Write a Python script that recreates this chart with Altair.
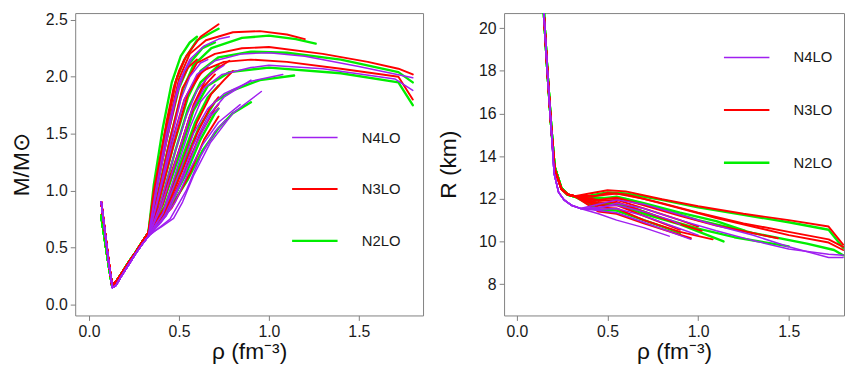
import altair as alt
import pandas as pd

FAMILIES = ["N4LO", "N3LO", "N2LO"]
COLORS = ["#A020F0", "#FF0000", "#00EE00"]
WIDTHS = [1.5, 2.4, 3.3]
DRAW_ORDER = ["N2LO", "N3LO", "N4LO"]

# ---------------- left panel: M/Msun vs rho ----------------
M_BASE = {
    "N2LO": [[0.068, 0.78], [0.09, 0.55], [0.11, 0.34], [0.128, 0.17], [0.15, 0.2], [0.18, 0.27], [0.22, 0.37], [0.26, 0.46], [0.30, 0.56], [0.33, 0.63]],
    "N3LO": [[0.068, 0.90], [0.09, 0.62], [0.11, 0.37], [0.128, 0.17], [0.15, 0.2], [0.18, 0.27], [0.22, 0.37], [0.26, 0.46], [0.30, 0.56], [0.33, 0.63]],
    "N4LO": [[0.068, 0.90], [0.09, 0.62], [0.11, 0.36], [0.13, 0.15], [0.15, 0.17], [0.18, 0.25], [0.22, 0.35], [0.26, 0.45], [0.30, 0.54], [0.33, 0.60]],
}

M_N3LO = [
    [[0.36, 1.0], [0.42, 1.5], [0.49, 2.0], [0.54, 2.18], [0.62, 2.35], [0.72, 2.46]],
    [[0.37, 1.0], [0.43, 1.5], [0.50, 1.98], [0.56, 2.2], [0.65, 2.32], [0.8, 2.39], [0.95, 2.40], [1.1, 2.37], [1.2, 2.33]],
    [[0.38, 0.95], [0.45, 1.45], [0.52, 1.9], [0.6, 2.12], [0.7, 2.2], [0.85, 2.25], [1.0, 2.26], [1.3, 2.2], [1.55, 2.13], [1.72, 2.07], [1.8, 2.02]],
    [[0.39, 0.92], [0.47, 1.4], [0.55, 1.85], [0.63, 2.05], [0.75, 2.13], [0.9, 2.15], [1.1, 2.13], [1.4, 2.07], [1.72, 2.0], [1.8, 1.8]],
    [[0.4, 0.9], [0.5, 1.35], [0.58, 1.75], [0.65, 1.98], [0.72, 2.08], [0.78, 2.14]],
    [[0.42, 0.85], [0.52, 1.25], [0.6, 1.6], [0.68, 1.85], [0.75, 1.97], [0.8, 2.05]],
    [[0.44, 0.85], [0.54, 1.2], [0.62, 1.5], [0.7, 1.72], [0.72, 1.76]],
    [[0.38, 1.1], [0.43, 1.6], [0.47, 1.9], [0.5, 2.05], [0.53, 2.15]],
    [[0.37, 0.98], [0.44, 1.5], [0.5, 1.92], [0.55, 2.08], [0.6, 2.15]],
    [[0.39, 0.95], [0.46, 1.42], [0.53, 1.8], [0.6, 2.0], [0.66, 2.08]],
    [[0.41, 0.88], [0.49, 1.3], [0.56, 1.65], [0.63, 1.9], [0.7, 2.02]],
    [[0.43, 0.84], [0.52, 1.18], [0.6, 1.5], [0.67, 1.72], [0.72, 1.82]],
    [[0.46, 0.85], [0.56, 1.15], [0.64, 1.45], [0.72, 1.65]],
]

M_N2LO = [
    [[0.36, 0.98], [0.42, 1.48], [0.48, 1.95], [0.53, 2.15], [0.6, 2.32], [0.72, 2.42]],
    [[0.36, 1.05], [0.41, 1.55], [0.46, 1.95], [0.51, 2.18], [0.56, 2.3], [0.6, 2.35]],
    [[0.38, 0.95], [0.45, 1.45], [0.52, 1.88], [0.58, 2.1], [0.68, 2.25], [0.85, 2.34], [1.0, 2.36], [1.15, 2.33], [1.26, 2.29]],
    [[0.39, 0.92], [0.47, 1.4], [0.55, 1.82], [0.62, 2.05], [0.72, 2.17], [0.9, 2.22], [1.1, 2.21], [1.4, 2.15], [1.72, 2.04], [1.8, 1.95]],
    [[0.41, 0.88], [0.5, 1.3], [0.58, 1.7], [0.66, 1.92], [0.78, 2.04], [1.0, 2.08], [1.4, 2.03], [1.72, 1.95], [1.8, 1.75]],
    [[0.43, 0.86], [0.53, 1.25], [0.61, 1.55], [0.7, 1.78], [0.8, 1.88], [0.95, 1.97], [1.14, 2.01]],
    [[0.45, 0.85], [0.55, 1.1], [0.63, 1.35], [0.72, 1.55], [0.8, 1.68], [0.9, 1.775]],
    [[0.37, 0.97], [0.43, 1.45], [0.5, 1.9], [0.56, 2.12], [0.63, 2.25], [0.7, 2.3]],
    [[0.4, 0.9], [0.48, 1.35], [0.55, 1.72], [0.62, 1.95], [0.72, 2.1]],
    [[0.42, 0.86], [0.51, 1.25], [0.59, 1.6], [0.66, 1.82], [0.72, 1.92]],
    [[0.44, 0.84], [0.54, 1.15], [0.62, 1.45], [0.7, 1.68], [0.72, 1.72]],
]

M_N4LO = [
    [[0.37, 1.0], [0.43, 1.5], [0.5, 1.95], [0.56, 2.15], [0.64, 2.27], [0.72, 2.33], [0.78, 2.35]],
    [[0.38, 0.9], [0.46, 1.4], [0.53, 1.8], [0.6, 2.02], [0.7, 2.14], [0.85, 2.2], [1.0, 2.21], [1.2, 2.18], [1.5, 2.09], [1.8, 1.99]],
    [[0.4, 0.85], [0.49, 1.3], [0.57, 1.7], [0.64, 1.9], [0.74, 2.02], [0.9, 2.08], [1.0, 2.1], [1.3, 2.07], [1.7, 1.98], [1.8, 1.88]],
    [[0.41, 0.8], [0.5, 1.15], [0.58, 1.5], [0.66, 1.72], [0.75, 1.85], [0.9, 1.96], [1.077, 2.02]],
    [[0.36, 0.64], [0.4, 0.68], [0.47, 0.757], [0.52, 0.9], [0.58, 1.13], [0.674, 1.42], [0.8, 1.68], [0.958, 1.87]],
    [[0.4, 0.72], [0.48, 0.9], [0.55, 1.15], [0.63, 1.4], [0.72, 1.6], [0.84, 1.755]],
    [[0.42, 0.78], [0.5, 1.05], [0.58, 1.4], [0.66, 1.65], [0.75, 1.82], [0.9, 1.97]],
    [[0.37, 0.95], [0.42, 1.35], [0.48, 1.8], [0.53, 2.05], [0.57, 2.15]],
    [[0.38, 0.92], [0.45, 1.4], [0.51, 1.8], [0.56, 2.0], [0.62, 2.12], [0.66, 2.15]],
    [[0.39, 0.85], [0.47, 1.3], [0.54, 1.65], [0.6, 1.88], [0.68, 2.03], [0.75, 2.1]],
    [[0.41, 0.8], [0.49, 1.2], [0.56, 1.55], [0.62, 1.78], [0.7, 1.93]],
    [[0.43, 0.78], [0.52, 1.1], [0.6, 1.42], [0.67, 1.65], [0.72, 1.72]],
    [[0.45, 0.75], [0.54, 1.0], [0.62, 1.3], [0.7, 1.52], [0.76, 1.62]],
]

# ---------------- right panel: R (km) vs rho ----------------
R_BASE = {
    "N2LO": [[0.145, 21.5], [0.15, 20.5], [0.168, 18.0], [0.19, 15.3], [0.208, 13.5], [0.245, 12.5], [0.28, 12.2], [0.32, 12.1]],
    "N3LO": [[0.145, 21.5], [0.15, 20.5], [0.168, 18.0], [0.19, 15.25], [0.208, 13.4], [0.245, 12.47], [0.28, 12.2], [0.32, 12.12]],
    "N4LO": [[0.145, 21.5], [0.15, 20.5], [0.168, 18.0], [0.19, 15.2], [0.205, 13.2], [0.23, 12.3], [0.26, 11.95], [0.3, 11.7], [0.35, 11.55]],
}

R_N3LO = [
    [[0.4, 12.25], [0.5, 12.4], [0.6, 12.35], [0.8, 11.98], [1.0, 11.65], [1.25, 11.3], [1.5, 11.0], [1.72, 10.7], [1.8, 9.85]],
    [[0.42, 12.1], [0.5, 12.28], [0.6, 12.2], [0.8, 11.8], [1.0, 11.35], [1.25, 10.85], [1.5, 10.45], [1.72, 10.1], [1.8, 9.75]],
    [[0.45, 11.95], [0.55, 12.05], [0.7, 11.7], [0.9, 11.2], [1.1, 10.75], [1.3, 10.4], [1.44, 10.15]],
    [[0.45, 11.8], [0.55, 11.85], [0.7, 11.4], [0.85, 10.95], [1.02, 10.5]],
    [[0.45, 11.6], [0.55, 11.55], [0.7, 11.0], [0.9, 10.45], [1.08, 10.1]],
    [[0.45, 11.4], [0.55, 11.3], [0.7, 10.85], [0.96, 10.15]],
    [[0.45, 12.15], [0.55, 12.25], [0.7, 12.0], [0.9, 11.55], [1.1, 11.1], [1.3, 10.7], [1.5, 10.3], [1.72, 9.95], [1.8, 9.6]],
    [[0.45, 11.9], [0.55, 11.95], [0.7, 11.55], [0.9, 11.0], [1.0, 10.7]],
    [[0.45, 11.7], [0.55, 11.7], [0.7, 11.2], [0.9, 10.55]],
]

R_N2LO = [
    [[0.4, 12.15], [0.5, 12.3], [0.6, 12.25], [0.8, 11.95], [1.0, 11.6], [1.25, 11.25], [1.5, 10.9], [1.72, 10.55], [1.8, 9.7]],
    [[0.45, 12.0], [0.55, 12.1], [0.7, 11.8], [0.9, 11.35], [1.1, 10.95], [1.26, 10.5]],
    [[0.45, 11.7], [0.55, 11.75], [0.7, 11.3], [0.9, 10.8], [1.14, 10.0]],
    [[0.45, 11.8], [0.6, 11.7], [0.8, 11.1], [1.0, 10.6], [1.2, 10.2], [1.5, 9.77]],
    [[0.45, 12.05], [0.6, 12.0], [0.8, 11.5], [1.0, 11.0], [1.3, 10.4], [1.6, 9.9], [1.75, 9.6], [1.8, 9.35]],
    [[0.45, 11.5], [0.55, 11.45], [0.7, 11.0], [0.9, 10.4]],
]

R_N4LO = [
    [[0.45, 11.75], [0.55, 11.95], [0.7, 11.75], [0.9, 11.25], [1.1, 10.75], [1.3, 10.3], [1.5, 9.75], [1.72, 9.25], [1.8, 9.25]],
    [[0.45, 11.6], [0.55, 11.7], [0.7, 11.4], [0.85, 11.0], [0.9, 10.8]],
    [[0.45, 11.45], [0.55, 11.35], [0.7, 10.9], [0.96, 10.1]],
    [[0.45, 11.3], [0.55, 11.0], [0.7, 10.65], [0.84, 10.25]],
    [[0.45, 11.5], [0.55, 11.55], [0.7, 11.2], [0.9, 10.6], [1.0, 10.3]],
    [[0.45, 11.55], [0.55, 11.8], [0.7, 11.55], [0.9, 11.0], [1.1, 10.5], [1.3, 10.05], [1.5, 9.65], [1.72, 9.4], [1.8, 9.35]],
]


def build(base, branches):
    rows = []
    for fam in DRAW_ORDER:
        for k, br in enumerate(branches[fam]):
            for i, (x, y) in enumerate(base[fam] + br):
                rows.append({"family": fam, "curve": f"{fam}-{k}", "idx": i, "rho": x, "val": y})
    return pd.DataFrame(rows)


df_m = build(M_BASE, {"N2LO": M_N2LO, "N3LO": M_N3LO, "N4LO": M_N4LO})
df_r = build(R_BASE, {"N2LO": R_N2LO, "N3LO": R_N3LO, "N4LO": R_N4LO})

FONT = "Liberation Sans"


def panel(df, xdom, ydom, yvals, yfmt, ytitle, ytpad, lx, ly, rowpad, w, h):
    leg = alt.Legend(orient="none", legendX=lx, legendY=ly, title=None,
                     symbolType="stroke", symbolSize=2116, labelFontSize=15,
                     labelFont=FONT, labelColor="#1a1a1a", labelOffset=23,
                     rowPadding=rowpad, padding=0)
    return alt.Chart(df).mark_line(clip=True, strokeJoin="round", strokeCap="round").encode(
        x=alt.X("rho:Q", scale=alt.Scale(domain=xdom, nice=False, zero=False),
                axis=alt.Axis(values=[0.0, 0.5, 1.0, 1.5], format=".1f", title="ρ  (fm⁻³)")),
        y=alt.Y("val:Q", scale=alt.Scale(domain=ydom, nice=False, zero=False),
                axis=alt.Axis(values=yvals, format=yfmt, title=ytitle, titlePadding=ytpad)),
        color=alt.Color("family:N", scale=alt.Scale(domain=FAMILIES, range=COLORS), legend=leg),
        strokeWidth=alt.StrokeWidth("family:N", scale=alt.Scale(domain=FAMILIES, range=WIDTHS), legend=leg),
        detail="curve:N",
        order="idx:Q",
    ).properties(width=w, height=h)


left = panel(df_m, [-0.077, 1.857], [-0.095, 2.558], [0.0, 0.5, 1.0, 1.5, 2.0, 2.5], ".1f",
             "M/M⊙", 12, 218, 102, 20, 352, 306)
right = panel(df_r, [-0.071, 1.805], [6.53, 20.71], [8, 10, 12, 14, 16, 18, 20], "d",
              "R (km)", 18, 221, 21, 21, 344, 306)

chart = alt.hconcat(left, right, spacing=13).resolve_scale(
    color="independent", strokeWidth="independent"
).resolve_legend(
    color="independent", strokeWidth="independent"
).properties(
    padding={"left": 2, "top": 1, "right": 0, "bottom": 0}
).configure_view(
    stroke="#808080", strokeWidth=1
).configure_axis(
    domain=False, grid=False, tickColor="#808080", tickSize=5, tickWidth=1,
    labelFont=FONT, labelFontSize=16, labelColor="#1a1a1a", labelPadding=3,
    titleFont=FONT, titleFontSize=23, titleFontWeight="normal", titleColor="#111111",
).configure_axisX(titlePadding=2)

chart.save("out.html", embed_options={"renderer": "svg", "actions": False})
